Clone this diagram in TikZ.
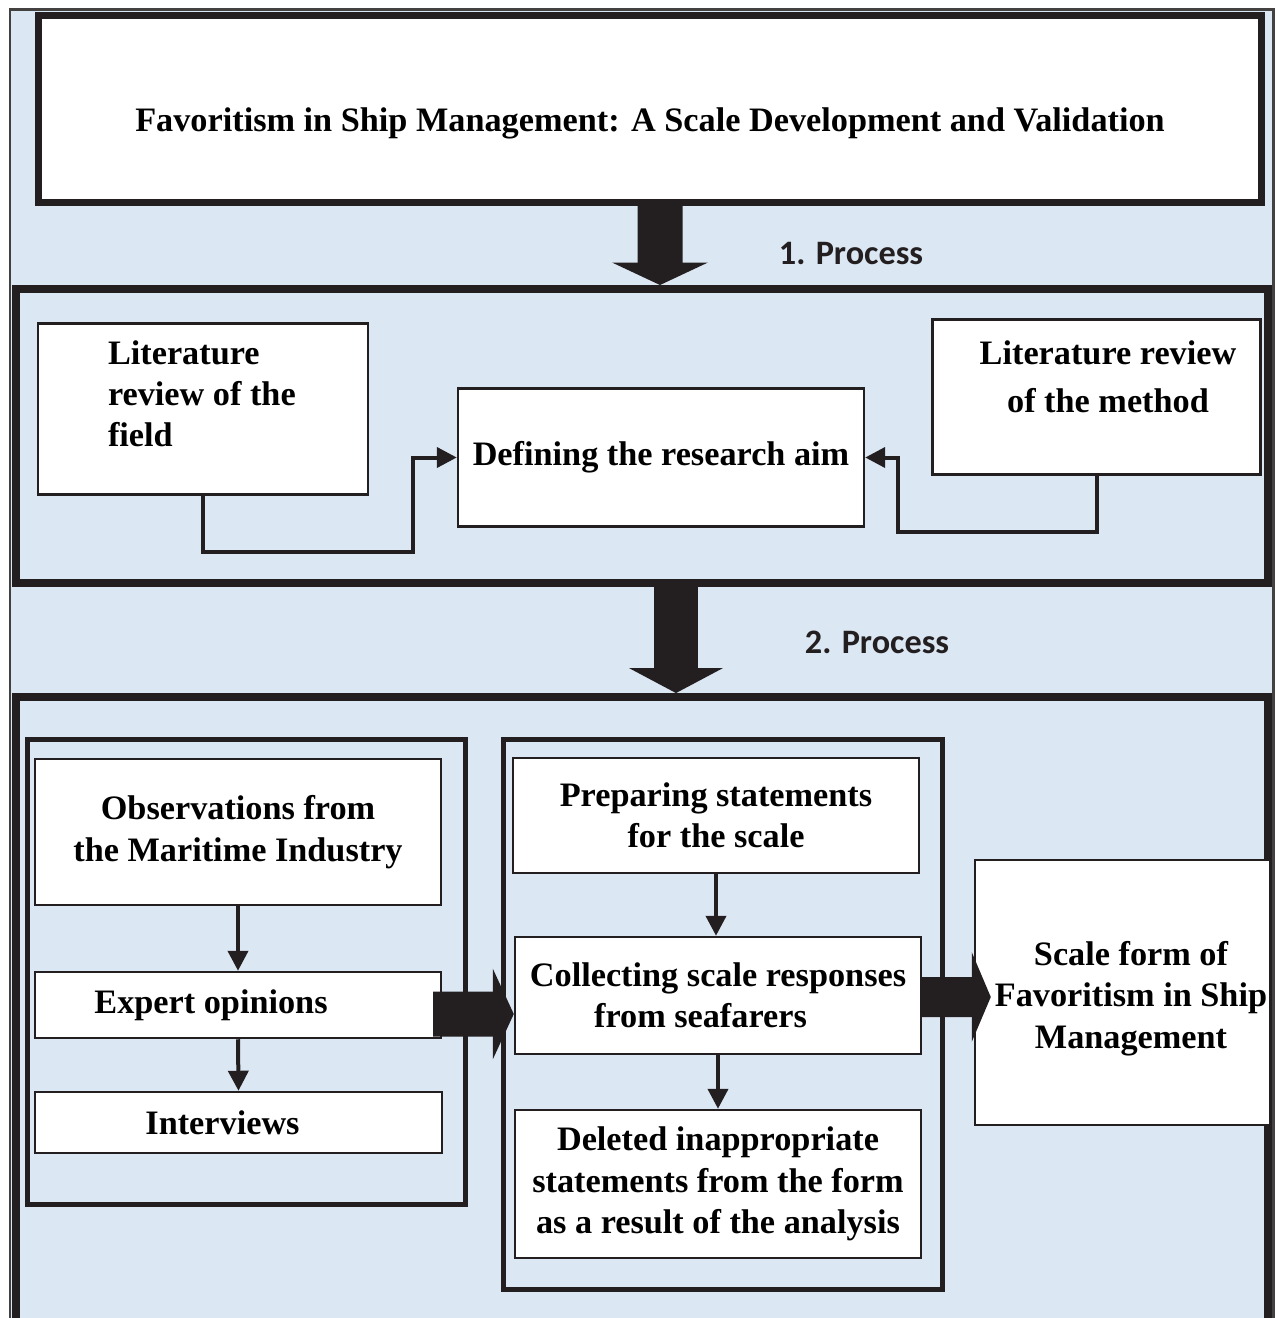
\documentclass[tikz,border=0pt]{standalone}
\usepackage{fontspec}
\setmainfont{Liberation Serif}
\newfontfamily\procfont{Carlito}
\usetikzlibrary{arrows.meta}

\definecolor{panelblue}{RGB}{220,231,244}
\definecolor{inkblack}{RGB}{35,31,32}

\begin{document}
\begin{tikzpicture}[x=0.02cm, y=-0.02cm]

  \tikzset{box/.style      = {draw=inkblack, line width=0.05cm, fill=white, align=center,
                              inner sep=0pt, font=\bfseries\fontsize{19.5}{23.5}\selectfont},
           frame/.style    = {draw=inkblack, line width=0.16cm, inner sep=0pt},
           group/.style    = {draw=inkblack, line width=0.1cm, inner sep=0pt},
           flow/.style     = {draw=inkblack, line width=0.08cm,
                              -{Triangle[length=0.4cm, width=0.4cm]}},
           bigarrow/.style = {draw=inkblack, line width=0.9cm,
                              -{Triangle[length=0.45cm, width=1.9cm]}},
           proclabel/.style= {font=\procfont\bfseries\fontsize{19.5}{23}\selectfont, text=inkblack}}

\useasboundingbox (0,0) rectangle (1276,1318);
\clip (0,0) rectangle (1276,1318);

% page
\fill[white] (0,0) rectangle (1276,1318);
\draw[draw=inkblack!85, line width=0.06cm, fill=panelblue] (10,10) rectangle (1273,1340);

% title
\node[box, line width=0.14cm, minimum width=24.46cm, minimum height=3.74cm,
      font=\bfseries\fontsize{19.5}{23}\selectfont, text height=1.07cm, text depth=0.15cm]
      at (650, 109) (title) {Favoritism in Ship Management: A Scale Development and Validation};

% process 1
\node[frame, minimum width=25.04cm, minimum height=5.88cm] at (642, 436) (proc1) {};

\node[box, minimum width=6.6cm, minimum height=3.43cm, text width=3.8cm, align=flush left]
      at (203, 409) (field) {Literature\\review of the\\field\\[-6pt]\mbox{}};
\node[box, minimum width=8.12cm, minimum height=2.77cm] at (661, 457.5) (aim) {Defining the research aim};
\node[box, minimum width=6.57cm, minimum height=3.11cm] at (1096.5, 397) (method)
      {\hspace*{0.46cm}Literature review\\[4pt]\hspace*{0.46cm}of the method\\ \mbox{}};

\draw[flow] (field.south) -- ++(0,56) -- ++(210,0) |- (aim.west);
\draw[flow] (method.south) -- ++(0,56) -- ++(-198.5,0) |- (aim.east);

\node[proclabel] at (851, 253) (proclbl1) {1. Process};

% process 2
\node[frame, minimum width=25.04cm, minimum height=12.86cm] at (642, 1018.5) (proc2) {};

\node[proclabel] at (877, 642) (proclbl2) {2. Process};

% sources
\node[group, minimum width=8.76cm, minimum height=9.3cm] at (246.5, 972) (sources) {};
\node[box, minimum width=8.12cm, minimum height=2.92cm] at (238, 832) (observe)
      {Observations from\\the Maritime Industry};
\node[box, minimum width=8.12cm, minimum height=1.32cm] at (238, 1005) (expert)
      {Expert opinions\hspace*{1.08cm}};
\node[box, minimum width=8.14cm, minimum height=1.22cm] at (238.5, 1122.5) (interview)
      {Interviews\hspace*{0.64cm}};

\draw[flow] (observe.south) -- (expert.north);
\draw[flow] (expert.south) -- (interview.north);

% scale steps
\node[group, minimum width=8.78cm, minimum height=11cm] at (723, 1014.5) (steps) {};
\node[box, minimum width=8.12cm, minimum height=2.3cm] at (716, 815.5) (prepare)
      {Preparing statements\\for the scale};
\node[box, minimum width=8.12cm, minimum height=2.34cm] at (718, 995.5) (collect)
      {Collecting scale responses\\from seafarers\hspace*{0.7cm}};
\node[box, minimum width=8.12cm, minimum height=2.96cm] at (718, 1184) (deleted)
      {Deleted inappropriate\\statements from the form\\as a result of the analysis};

\draw[flow] (prepare.south) -- (prepare.south |- collect.north);
\draw[flow] (collect.south) -- (deleted.north);

% result
\node[box, minimum width=5.9cm, minimum height=5.3cm] at (1122.5, 992.5) (scaleform)
      {\mbox{}\\[-3pt]\hspace*{0.34cm}Scale form of\\\hspace*{0.34cm}Favoritism in Ship\\
       \hspace*{0.34cm}Management};

% big arrows
\draw[bigarrow] ([xshift=0.2cm]title.south) -- ([xshift=0.36cm]proc1.north);
\draw[bigarrow, -{Triangle[length=0.5cm, width=1.86cm]}]
      ([xshift=0.68cm]proc1.south) -- ([xshift=0.68cm]proc2.north);
\draw[bigarrow, -{Triangle[length=0.42cm, width=1.8cm]}]
      ([xshift=-0.18cm, yshift=-0.18cm]expert.east) -- ([yshift=-0.37cm]collect.west);
\draw[bigarrow, line width=0.8cm, -{Triangle[length=0.38cm, width=1.78cm]}]
      ([xshift=-0.04cm, yshift=-0.03cm]collect.east) -- ([xshift=0.34cm, yshift=-0.09cm]scaleform.west);

\end{tikzpicture}
\end{document}
